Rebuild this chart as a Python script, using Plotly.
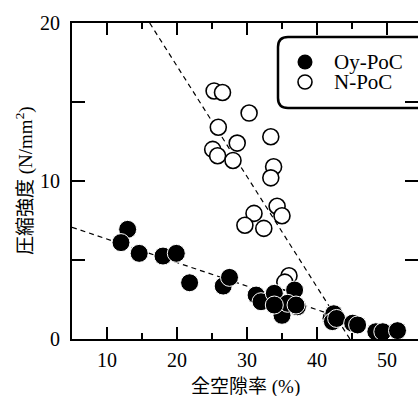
import plotly.graph_objects as go

# ---- data ----
oy_x = [12.95, 12.0, 14.6, 18.0, 19.9, 21.8, 26.6, 27.5, 31.3, 32.0, 33.9, 36.8,
        35.1, 35.0, 37.2, 35.8, 33.9, 37.0, 42.0, 42.4, 42.2, 42.8, 45.1, 45.8,
        48.4, 49.4, 51.5]
oy_y = [6.94, 6.1, 5.42, 5.25, 5.42, 3.56, 3.35, 3.9, 2.78, 2.36, 2.89, 3.1,
        1.73, 1.5, 2.04, 2.26, 2.15, 2.15, 1.31, 1.6, 1.1, 1.3, 1.0, 0.89,
        0.46, 0.46, 0.53]

n_x = [25.3, 26.5, 30.3, 25.9, 33.4, 28.6, 25.1, 25.8, 28.0, 33.8, 33.4, 34.3,
       35.0, 31.0, 29.7, 32.4, 36.0, 35.4]
n_y = [15.7, 15.6, 14.3, 13.4, 12.8, 12.4, 12.0, 11.6, 11.3, 10.9, 10.2, 8.4,
       7.8, 7.95, 7.2, 7.0, 4.0, 3.6]

trend_oy_x = [5, 44]
trend_oy_y = [7.07, 1.26]
trend_n_x = [16.1, 44.7]
trend_n_y = [20, 0]

series_names = ["Oy-PoC", "N-PoC"]
x_tickvals = [10, 20, 30, 40, 50]
y_tickvals = [0, 10, 20]
x_title = "全空隙率 (%)"
y_title = "圧縮強度 (N/mm<sup>2</sup>)"

# ---- layout constants ----
W, H = 418, 396
L, R, T, B = 72, 0, 23, 57
pw = W - L - R
ph = H - T - B
px_per_x = 7.0
x_range = [5, 5 + pw / px_per_x]

serif = "Liberation Serif, Times New Roman, serif"
title_font = "Liberation Serif, Noto Sans CJK JP, serif"

fig = go.Figure()

dash = "5px,4px"
fig.add_trace(go.Scatter(x=trend_oy_x, y=trend_oy_y, mode="lines",
                         line=dict(color="black", width=1.2, dash=dash),
                         showlegend=False, hoverinfo="skip"))
fig.add_trace(go.Scatter(x=trend_n_x, y=trend_n_y, mode="lines",
                         line=dict(color="black", width=1.2, dash=dash),
                         showlegend=False, hoverinfo="skip"))
fig.add_trace(go.Scatter(x=n_x, y=n_y, mode="markers", name=series_names[1],
                         marker=dict(size=16, color="white",
                                     line=dict(color="black", width=1.6)),
                         showlegend=False))
fig.add_trace(go.Scatter(x=oy_x, y=oy_y, mode="markers", name=series_names[0],
                         marker=dict(size=18, color="black",
                                     line=dict(color="white", width=1)),
                         showlegend=False))

# ---- legend (custom, drawn on auxiliary axes) ----
def fx(p):
    return (p - L) / pw

def fy(p):
    return (H - B - p) / ph

leg_x = [fx(305), fx(305)]
leg_y = [fy(62), fy(82)]
fig.add_trace(go.Scatter(x=[leg_x[0]], y=[leg_y[0]], mode="markers", xaxis="x2", yaxis="y2",
                         marker=dict(size=15, color="black"), showlegend=False, hoverinfo="skip"))
fig.add_trace(go.Scatter(x=[leg_x[1]], y=[leg_y[1]], mode="markers", xaxis="x2", yaxis="y2",
                         marker=dict(size=14, color="white", line=dict(color="black", width=1.6)),
                         showlegend=False, hoverinfo="skip"))
for name, yy in zip(series_names, leg_y):
    fig.add_annotation(x=fx(332), y=yy, xref="paper", yref="paper", text=name,
                       showarrow=False, xanchor="left", yanchor="middle",
                       font=dict(family=serif, size=21, color="black"))

x0, x1 = fx(278), fx(440)
y0, y1 = fy(108), fy(37)
rx, ry = 10 / pw, 10 / ph
path = (f"M {x0+rx},{y1} L {x1},{y1} L {x1},{y0} L {x0+rx},{y0} "
        f"Q {x0},{y0} {x0},{y0+ry} L {x0},{y1-ry} Q {x0},{y1} {x0+rx},{y1} Z")
fig.add_shape(type="path", path=path, xref="paper", yref="paper",
              line=dict(color="black", width=2.5), fillcolor="white", layer="below")

# ---- axis titles as annotations (precise placement) ----
fig.add_annotation(x=0.5, y=fy(387), xref="paper", yref="paper", text=x_title,
                   showarrow=False, xanchor="center", yanchor="middle",
                   font=dict(family=title_font, size=19, color="black"))
fig.add_annotation(x=fx(24), y=0.5, xref="paper", yref="paper", text=y_title,
                   showarrow=False, xanchor="center", yanchor="middle", textangle=-90,
                   font=dict(family=title_font, size=19, color="black"))

fig.update_layout(
    width=W, height=H,
    margin=dict(l=L, r=R, t=T, b=B, autoexpand=False),
    paper_bgcolor="white", plot_bgcolor="white",
    showlegend=False,
    xaxis=dict(range=x_range, showgrid=False, zeroline=False,
               showline=True, linecolor="black", linewidth=2, mirror="allticks",
               ticks="inside", ticklen=12, tickwidth=1.5, tickcolor="black",
               tickvals=x_tickvals, ticklabelstandoff=2,
               minor=dict(dtick=5, tick0=0, ticks="inside", ticklen=6, tickwidth=1.5, tickcolor="black"),
               tickfont=dict(family=serif, size=20, color="black"),
               automargin=False),
    yaxis=dict(range=[0, 20], showgrid=False, zeroline=False,
               showline=True, linecolor="black", linewidth=2, mirror="allticks",
               ticks="inside", ticklen=13, tickwidth=1.5, tickcolor="black",
               tickvals=y_tickvals, ticklabelstandoff=6,
               minor=dict(dtick=5, tick0=0, ticks="inside", ticklen=13, tickwidth=1.5, tickcolor="black"),
               tickfont=dict(family=serif, size=20, color="black"),
               automargin=False),
    xaxis2=dict(range=[0, 1], overlaying="x", visible=False, fixedrange=True),
    yaxis2=dict(range=[0, 1], overlaying="y", visible=False, fixedrange=True),
)

fig.write_html("out.html")
